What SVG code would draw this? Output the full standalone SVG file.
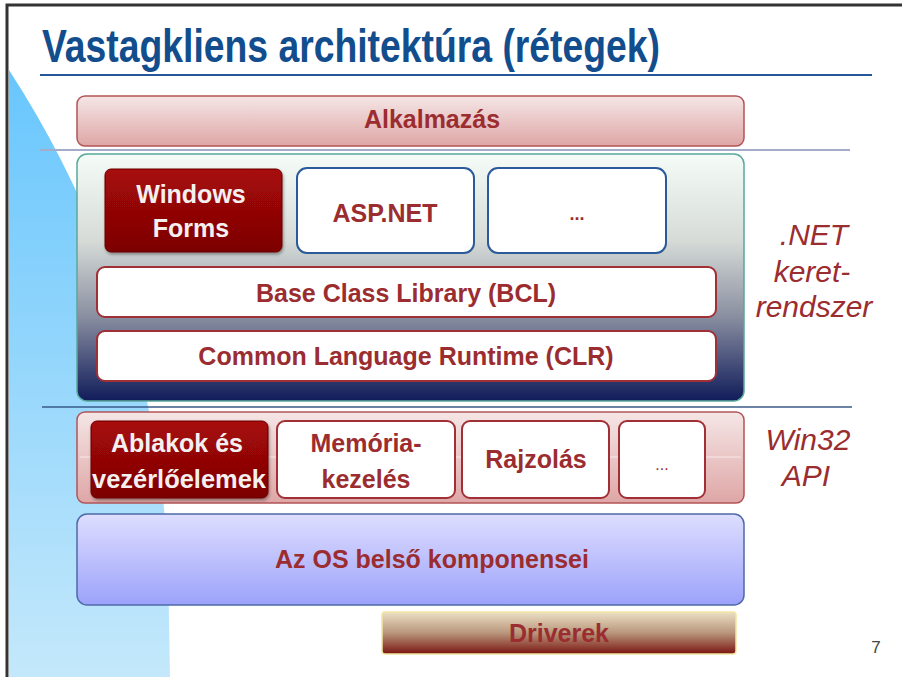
<svg xmlns="http://www.w3.org/2000/svg" width="902" height="677" viewBox="0 0 902 677">
<defs>
<linearGradient id="gBlue" x1="0" y1="0" x2="0" y2="1"><stop offset="0" stop-color="#68c6fd"/><stop offset="1" stop-color="#c4e8fb"/></linearGradient>
<linearGradient id="gPink" x1="0" y1="0" x2="0" y2="1"><stop offset="0" stop-color="#f5e6e6"/><stop offset="1" stop-color="#dfa6a6"/></linearGradient>
<linearGradient id="gNet" x1="0" y1="0" x2="0" y2="1"><stop offset="0" stop-color="#f5fcf7"/><stop offset="0.35" stop-color="#d6dbd8"/><stop offset="0.65" stop-color="#8c91a2"/><stop offset="1" stop-color="#101c5a"/></linearGradient>
<linearGradient id="gRed" x1="0" y1="0" x2="0" y2="1"><stop offset="0" stop-color="#a80808"/><stop offset="1" stop-color="#7c0404"/></linearGradient>
<linearGradient id="gOS" x1="0" y1="0" x2="0" y2="1"><stop offset="0" stop-color="#dedeff"/><stop offset="1" stop-color="#9ca2fa"/></linearGradient>
<linearGradient id="gDrv" x1="0" y1="0" x2="0" y2="1"><stop offset="0" stop-color="#ece0c4"/><stop offset="0.5" stop-color="#b8967c"/><stop offset="1" stop-color="#7a1510"/></linearGradient>
<filter id="sh" x="-10%" y="-10%" width="125%" height="130%"><feDropShadow dx="1" dy="2" stdDeviation="1.5" flood-color="#000" flood-opacity="0.35"/></filter>
</defs>
<style>
.lbl{font-family:"Liberation Sans",Arial,sans-serif;font-weight:bold;font-size:25px;fill:#9b2d30;text-anchor:middle}
.wl{font-family:"Liberation Sans",Arial,sans-serif;font-weight:bold;font-size:25px;fill:#f4f0f0;text-anchor:middle}
.side{font-family:"Liberation Sans",Arial,sans-serif;font-style:italic;font-size:30px;fill:#9b2d30;text-anchor:middle}
.wbox{fill:#ffffff;stroke:#a03035;stroke-width:2}
.bbox{fill:#ffffff;stroke:#2a5a9a;stroke-width:2}
.rbox{fill:url(#gRed);stroke:#6a0000;stroke-width:1;filter:url(#sh)}
</style>
<rect x="0" y="0" width="902" height="677" fill="#ffffff"/>
<path d="M9,70 A993,993 0 0 1 168,560 L170,677 L9,677 Z" fill="url(#gBlue)"/>
<path d="M7,677 L7,5 L902,5" fill="none" stroke="#333333" stroke-width="3"/>
<text x="42" y="62" font-family="'Liberation Sans',Arial,sans-serif" font-weight="bold" font-size="46" fill="#124d8e" textLength="618" lengthAdjust="spacingAndGlyphs">Vastagkliens architektúra (rétegek)</text>
<line x1="40" y1="75" x2="872" y2="75" stroke="#245898" stroke-width="2"/>
<line x1="40" y1="150" x2="850" y2="150" stroke="#a3acc8" stroke-width="2"/>
<line x1="42" y1="407" x2="852" y2="407" stroke="#3a5a8a" stroke-width="1.5"/>
<g id="alkalmazas">
<rect x="77" y="96" width="667" height="50" rx="8" fill="url(#gPink)" stroke="#b25456" stroke-width="1.5"/>
<text class="lbl" x="432" y="128">Alkalmazás</text>
</g>
<g id="net">
<rect x="77" y="154" width="667" height="247" rx="10" fill="url(#gNet)" stroke="#5aa89a" stroke-width="1.5"/>
</g>
<g id="winforms">
<rect class="rbox" x="105" y="169" width="177" height="83" rx="6"/>
<text class="wl" x="191" y="203">Windows</text>
<text class="wl" x="191" y="237">Forms</text>
</g>
<g id="aspnet">
<rect class="bbox" x="297" y="168" width="177" height="85" rx="10"/>
<text class="lbl" x="385" y="222">ASP.NET</text>
</g>
<g id="netdots">
<rect class="bbox" x="488" y="168" width="178" height="85" rx="10"/>
<text class="lbl" x="577" y="220" style="font-size:18px">...</text>
</g>
<g id="bcl">
<rect class="wbox" x="97" y="267" width="619" height="50" rx="8"/>
<text class="lbl" x="406" y="302">Base Class Library (BCL)</text>
</g>
<g id="clr">
<rect class="wbox" x="97" y="331" width="619" height="50" rx="8"/>
<text class="lbl" x="406" y="365">Common Language Runtime (CLR)</text>
</g>
<g id="netlabel">
<text class="side" x="814" y="245">.NET</text>
<text class="side" x="812" y="282">keret-</text>
<text class="side" x="814" y="317">rendszer</text>
</g>
<g id="win32">
<rect x="77" y="412" width="667" height="91" rx="8" fill="url(#gPink)" stroke="#b25456" stroke-width="1.5"/>
<line x1="80" y1="457" x2="741" y2="457" stroke="#f6eaea" stroke-width="1"/>
</g>
<g id="ablakok">
<rect class="rbox" x="91" y="421" width="177" height="77" rx="6"/>
<text class="wl" x="177" y="452">Ablakok és</text>
<text class="wl" x="179" y="488" textLength="174" lengthAdjust="spacingAndGlyphs">vezérlőelemek</text>
</g>
<g id="memoria">
<rect class="wbox" x="277" y="421" width="178" height="77" rx="8"/>
<text class="lbl" x="366" y="452">Memória-</text>
<text class="lbl" x="366" y="488">kezelés</text>
</g>
<g id="rajzolas">
<rect class="wbox" x="462" y="421" width="147" height="77" rx="8"/>
<text class="lbl" x="536" y="468">Rajzolás</text>
</g>
<g id="windots">
<rect class="wbox" x="619" y="421" width="86" height="77" rx="8"/>
<text class="lbl" x="662" y="470" style="font-size:16px;font-weight:normal">...</text>
</g>
<g id="win32label">
<text class="side" x="808" y="450">Win32</text>
<text class="side" x="806" y="486">API</text>
</g>
<g id="os">
<rect x="77" y="514" width="667" height="91" rx="10" fill="url(#gOS)" stroke="#4f6aa8" stroke-width="1.5"/>
<text class="lbl" x="432" y="568">Az OS belső komponensei</text>
</g>
<g id="driverek">
<rect x="382" y="612" width="354" height="42" rx="3" fill="url(#gDrv)" stroke="#f2e6a0" stroke-width="1.5"/>
<text class="lbl" x="559" y="642">Driverek</text>
</g>
<text x="876" y="653" font-family="'Liberation Sans',Arial,sans-serif" font-size="17" fill="#444444" text-anchor="middle">7</text>
<g id="connectors"/>
</svg>
